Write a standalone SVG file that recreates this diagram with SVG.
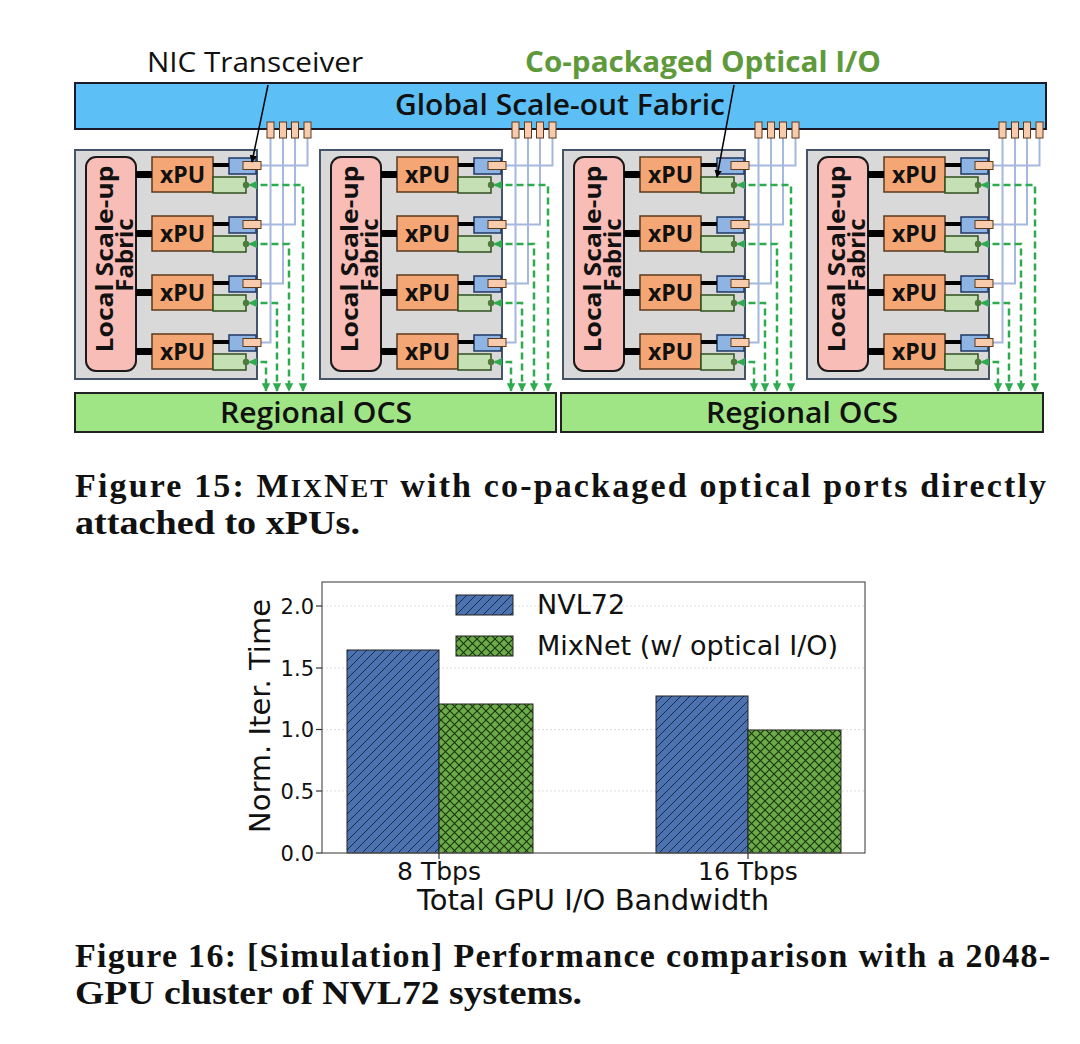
<svg xmlns="http://www.w3.org/2000/svg" width="1080" height="1044" viewBox="0 0 1080 1044">
<style>
.lbl{font-family:"Open Sans","Noto Sans","Liberation Sans",sans-serif;fill:#111}
.rack{fill:#D9D9D9;stroke:#44546A;stroke-width:2}
.local{fill:#F8BDB6;stroke:#1a1a1a;stroke-width:2}
.xpu{fill:#F4A774;stroke:#5B3A1E;stroke-width:1.5}
.nic{fill:#8DB4E2;stroke:#1F3864;stroke-width:1.5}
.port{fill:#F8CBAD;stroke:#5B3A1E;stroke-width:1}
.opt{fill:#C5E0B4;stroke:#2F4F1F;stroke-width:1.5}
.dot{fill:#4E7A3C}
.fiber{fill:none;stroke:#A6B8DD;stroke-width:2}
.olink{fill:none;stroke:#2EAA4F;stroke-width:2.5;stroke-dasharray:7 4;marker-start:url(#ga);marker-end:url(#ga)}
.bus{stroke:#000;stroke-width:7}
.nicl{stroke:#000;stroke-width:4}
.xt{font-family:"Open Sans","Liberation Sans",sans-serif;font-weight:700;font-size:23px;fill:#111;text-anchor:middle}
.lt{font-family:"Open Sans","Liberation Sans",sans-serif;font-weight:700;font-size:24px;fill:#111;text-anchor:middle}
.ocs{fill:#A0E585;stroke:#222;stroke-width:2}
.ch{font-family:"DejaVu Sans",sans-serif;fill:#111}
.grid{stroke:#DDDDDD;stroke-width:1;stroke-dasharray:2 2}
.bar{stroke:#222;stroke-width:1}
.cap{font-family:"Liberation Serif","Times New Roman",serif;font-weight:700;font-size:34px;fill:#111}
</style>
<defs>
<marker id="ga" viewBox="0 0 10 10" refX="9" refY="5" markerWidth="3.4" markerHeight="3.4" orient="auto-start-reverse"><path d="M0,0 L10,5 L0,10 z" fill="#2EAA4F"/></marker>
<marker id="ka" viewBox="0 0 10 10" refX="9" refY="5" markerWidth="5" markerHeight="5" orient="auto"><path d="M0,0 L10,5 L0,10 z" fill="#000"/></marker>
<pattern id="hb" patternUnits="userSpaceOnUse" width="9" height="9"><rect width="9" height="9" fill="#4C72B0"/><path d="M0,9 L9,0 M-1,1 L1,-1 M8,10 L10,8" stroke="#1B2A4A" stroke-width="1"/></pattern>
<pattern id="hg" patternUnits="userSpaceOnUse" width="9" height="9"><rect width="9" height="9" fill="#6CAB47"/><path d="M0,0 L9,9 M9,0 L0,9" stroke="#17330F" stroke-width="1.1"/></pattern>
</defs>
<rect width="1080" height="1044" fill="#fff"/>

<g id="global-fabric">
<rect x="75" y="83" width="971" height="46" fill="#5CBFF6" stroke="#1a1a2a" stroke-width="2"/>
<text class="lbl" x="395" y="115" font-size="28" font-weight="600" textLength="330" lengthAdjust="spacingAndGlyphs" fill="#0D1B2A">Global Scale-out Fabric</text>
</g>

<g id="label-nic"><text class="lbl" x="147" y="72" font-size="28" textLength="216" lengthAdjust="spacingAndGlyphs">NIC Transceiver</text></g>
<g id="label-cpo"><text class="lbl" x="525" y="72" font-size="29" font-weight="700" textLength="356" lengthAdjust="spacingAndGlyphs" style="fill:#5E9A3C">Co-packaged Optical I/O</text></g>

<g id="regional-ocs-1"><rect class="ocs" x="75" y="393" width="481" height="39"/><text class="lbl" x="220" y="423" font-size="28" font-weight="600" textLength="192" lengthAdjust="spacingAndGlyphs">Regional OCS</text></g>
<g id="regional-ocs-2"><rect class="ocs" x="561" y="393" width="482" height="39"/><text class="lbl" x="706" y="423" font-size="28" font-weight="600" textLength="192" lengthAdjust="spacingAndGlyphs">Regional OCS</text></g>

<g id="rack-1">
<rect class="rack" x="75" y="150" width="182" height="229"/>
<g id="rack-1-scaleup"><rect class="local" x="86" y="157" width="50" height="214" rx="10"/>
<text class="lt" x="113" y="259" transform="rotate(-90 113 259)" textLength="187" lengthAdjust="spacingAndGlyphs">Local Scale-up</text>
<text class="lt" x="133" y="255" transform="rotate(-90 133 255)">Fabric</text></g>
<g id="rack-1-xpu-1"><rect class="xpu" x="152" y="157" width="61" height="35"/><text class="xt" x="182.5" y="183">xPU</text><rect class="nic" x="229" y="158" width="27" height="16"/><rect class="opt" x="213" y="177" width="33" height="16"/></g>
<g id="rack-1-xpu-2"><rect class="xpu" x="152" y="216" width="61" height="35"/><text class="xt" x="182.5" y="242">xPU</text><rect class="nic" x="229" y="217" width="27" height="16"/><rect class="opt" x="213" y="236" width="33" height="16"/></g>
<g id="rack-1-xpu-3"><rect class="xpu" x="152" y="275" width="61" height="35"/><text class="xt" x="182.5" y="301">xPU</text><rect class="nic" x="229" y="276" width="27" height="16"/><rect class="opt" x="213" y="295" width="33" height="16"/></g>
<g id="rack-1-xpu-4"><rect class="xpu" x="152" y="334" width="61" height="35"/><text class="xt" x="182.5" y="360">xPU</text><rect class="nic" x="229" y="335" width="27" height="16"/><rect class="opt" x="213" y="354" width="33" height="16"/></g>
</g>

<g id="rack-2" transform="translate(245,0)">
<rect class="rack" x="75" y="150" width="182" height="229"/>
<g id="rack-2-scaleup"><rect class="local" x="86" y="157" width="50" height="214" rx="10"/>
<text class="lt" x="113" y="259" transform="rotate(-90 113 259)" textLength="187" lengthAdjust="spacingAndGlyphs">Local Scale-up</text>
<text class="lt" x="133" y="255" transform="rotate(-90 133 255)">Fabric</text></g>
<g id="rack-2-xpu-1"><rect class="xpu" x="152" y="157" width="61" height="35"/><text class="xt" x="182.5" y="183">xPU</text><rect class="nic" x="229" y="158" width="27" height="16"/><rect class="opt" x="213" y="177" width="33" height="16"/></g>
<g id="rack-2-xpu-2"><rect class="xpu" x="152" y="216" width="61" height="35"/><text class="xt" x="182.5" y="242">xPU</text><rect class="nic" x="229" y="217" width="27" height="16"/><rect class="opt" x="213" y="236" width="33" height="16"/></g>
<g id="rack-2-xpu-3"><rect class="xpu" x="152" y="275" width="61" height="35"/><text class="xt" x="182.5" y="301">xPU</text><rect class="nic" x="229" y="276" width="27" height="16"/><rect class="opt" x="213" y="295" width="33" height="16"/></g>
<g id="rack-2-xpu-4"><rect class="xpu" x="152" y="334" width="61" height="35"/><text class="xt" x="182.5" y="360">xPU</text><rect class="nic" x="229" y="335" width="27" height="16"/><rect class="opt" x="213" y="354" width="33" height="16"/></g>
</g>

<g id="rack-3" transform="translate(488,0)">
<rect class="rack" x="75" y="150" width="182" height="229"/>
<g id="rack-3-scaleup"><rect class="local" x="86" y="157" width="50" height="214" rx="10"/>
<text class="lt" x="113" y="259" transform="rotate(-90 113 259)" textLength="187" lengthAdjust="spacingAndGlyphs">Local Scale-up</text>
<text class="lt" x="133" y="255" transform="rotate(-90 133 255)">Fabric</text></g>
<g id="rack-3-xpu-1"><rect class="xpu" x="152" y="157" width="61" height="35"/><text class="xt" x="182.5" y="183">xPU</text><rect class="nic" x="229" y="158" width="27" height="16"/><rect class="opt" x="213" y="177" width="33" height="16"/></g>
<g id="rack-3-xpu-2"><rect class="xpu" x="152" y="216" width="61" height="35"/><text class="xt" x="182.5" y="242">xPU</text><rect class="nic" x="229" y="217" width="27" height="16"/><rect class="opt" x="213" y="236" width="33" height="16"/></g>
<g id="rack-3-xpu-3"><rect class="xpu" x="152" y="275" width="61" height="35"/><text class="xt" x="182.5" y="301">xPU</text><rect class="nic" x="229" y="276" width="27" height="16"/><rect class="opt" x="213" y="295" width="33" height="16"/></g>
<g id="rack-3-xpu-4"><rect class="xpu" x="152" y="334" width="61" height="35"/><text class="xt" x="182.5" y="360">xPU</text><rect class="nic" x="229" y="335" width="27" height="16"/><rect class="opt" x="213" y="354" width="33" height="16"/></g>
</g>

<g id="rack-4" transform="translate(732,0)">
<rect class="rack" x="75" y="150" width="182" height="229"/>
<g id="rack-4-scaleup"><rect class="local" x="86" y="157" width="50" height="214" rx="10"/>
<text class="lt" x="113" y="259" transform="rotate(-90 113 259)" textLength="187" lengthAdjust="spacingAndGlyphs">Local Scale-up</text>
<text class="lt" x="133" y="255" transform="rotate(-90 133 255)">Fabric</text></g>
<g id="rack-4-xpu-1"><rect class="xpu" x="152" y="157" width="61" height="35"/><text class="xt" x="182.5" y="183">xPU</text><rect class="nic" x="229" y="158" width="27" height="16"/><rect class="opt" x="213" y="177" width="33" height="16"/></g>
<g id="rack-4-xpu-2"><rect class="xpu" x="152" y="216" width="61" height="35"/><text class="xt" x="182.5" y="242">xPU</text><rect class="nic" x="229" y="217" width="27" height="16"/><rect class="opt" x="213" y="236" width="33" height="16"/></g>
<g id="rack-4-xpu-3"><rect class="xpu" x="152" y="275" width="61" height="35"/><text class="xt" x="182.5" y="301">xPU</text><rect class="nic" x="229" y="276" width="27" height="16"/><rect class="opt" x="213" y="295" width="33" height="16"/></g>
<g id="rack-4-xpu-4"><rect class="xpu" x="152" y="334" width="61" height="35"/><text class="xt" x="182.5" y="360">xPU</text><rect class="nic" x="229" y="335" width="27" height="16"/><rect class="opt" x="213" y="354" width="33" height="16"/></g>
</g>

<g id="connectors">
<g id="links-r1">
<line class="bus" x1="136" y1="174.5" x2="152" y2="174.5"/><line class="bus" x1="136" y1="233.5" x2="152" y2="233.5"/><line class="bus" x1="136" y1="292.5" x2="152" y2="292.5"/><line class="bus" x1="136" y1="351.5" x2="152" y2="351.5"/>
<line class="nicl" x1="213" y1="165" x2="229" y2="165"/><line class="nicl" x1="213" y1="224" x2="229" y2="224"/><line class="nicl" x1="213" y1="283" x2="229" y2="283"/><line class="nicl" x1="213" y1="342" x2="229" y2="342"/>
<path class="fiber" d="M261 165.5H307.5V138"/><path class="fiber" d="M261 224.5H295V138"/><path class="fiber" d="M261 283.5H283V138"/><path class="fiber" d="M261 342.5H270.5V138"/>
<rect class="port" x="243" y="161.5" width="18" height="8"/><rect class="port" x="243" y="220.5" width="18" height="8"/><rect class="port" x="243" y="279.5" width="18" height="8"/><rect class="port" x="243" y="338.5" width="18" height="8"/>
<rect class="port" x="304" y="122" width="7" height="16"/><rect class="port" x="291.5" y="122" width="7" height="16"/><rect class="port" x="279.5" y="122" width="7" height="16"/><rect class="port" x="267" y="122" width="7" height="16"/>
<path class="olink" d="M249.5 185H303V391"/><path class="olink" d="M249.5 244H289V391"/><path class="olink" d="M249.5 303H277V391"/><path class="olink" d="M249.5 362H266V391"/>
<circle class="dot" cx="246" cy="185" r="3.2"/><circle class="dot" cx="246" cy="244" r="3.2"/><circle class="dot" cx="246" cy="303" r="3.2"/><circle class="dot" cx="246" cy="362" r="3.2"/>
</g>
<g id="links-r2" transform="translate(245,0)">
<line class="bus" x1="136" y1="174.5" x2="152" y2="174.5"/><line class="bus" x1="136" y1="233.5" x2="152" y2="233.5"/><line class="bus" x1="136" y1="292.5" x2="152" y2="292.5"/><line class="bus" x1="136" y1="351.5" x2="152" y2="351.5"/>
<line class="nicl" x1="213" y1="165" x2="229" y2="165"/><line class="nicl" x1="213" y1="224" x2="229" y2="224"/><line class="nicl" x1="213" y1="283" x2="229" y2="283"/><line class="nicl" x1="213" y1="342" x2="229" y2="342"/>
<path class="fiber" d="M261 165.5H307.5V138"/><path class="fiber" d="M261 224.5H295V138"/><path class="fiber" d="M261 283.5H283V138"/><path class="fiber" d="M261 342.5H270.5V138"/>
<rect class="port" x="243" y="161.5" width="18" height="8"/><rect class="port" x="243" y="220.5" width="18" height="8"/><rect class="port" x="243" y="279.5" width="18" height="8"/><rect class="port" x="243" y="338.5" width="18" height="8"/>
<rect class="port" x="304" y="122" width="7" height="16"/><rect class="port" x="291.5" y="122" width="7" height="16"/><rect class="port" x="279.5" y="122" width="7" height="16"/><rect class="port" x="267" y="122" width="7" height="16"/>
<path class="olink" d="M249.5 185H303V391"/><path class="olink" d="M249.5 244H289V391"/><path class="olink" d="M249.5 303H277V391"/><path class="olink" d="M249.5 362H266V391"/>
<circle class="dot" cx="246" cy="185" r="3.2"/><circle class="dot" cx="246" cy="244" r="3.2"/><circle class="dot" cx="246" cy="303" r="3.2"/><circle class="dot" cx="246" cy="362" r="3.2"/>
</g>
<g id="links-r3" transform="translate(488,0)">
<line class="bus" x1="136" y1="174.5" x2="152" y2="174.5"/><line class="bus" x1="136" y1="233.5" x2="152" y2="233.5"/><line class="bus" x1="136" y1="292.5" x2="152" y2="292.5"/><line class="bus" x1="136" y1="351.5" x2="152" y2="351.5"/>
<line class="nicl" x1="213" y1="165" x2="229" y2="165"/><line class="nicl" x1="213" y1="224" x2="229" y2="224"/><line class="nicl" x1="213" y1="283" x2="229" y2="283"/><line class="nicl" x1="213" y1="342" x2="229" y2="342"/>
<path class="fiber" d="M261 165.5H307.5V138"/><path class="fiber" d="M261 224.5H295V138"/><path class="fiber" d="M261 283.5H283V138"/><path class="fiber" d="M261 342.5H270.5V138"/>
<rect class="port" x="243" y="161.5" width="18" height="8"/><rect class="port" x="243" y="220.5" width="18" height="8"/><rect class="port" x="243" y="279.5" width="18" height="8"/><rect class="port" x="243" y="338.5" width="18" height="8"/>
<rect class="port" x="304" y="122" width="7" height="16"/><rect class="port" x="291.5" y="122" width="7" height="16"/><rect class="port" x="279.5" y="122" width="7" height="16"/><rect class="port" x="267" y="122" width="7" height="16"/>
<path class="olink" d="M249.5 185H303V391"/><path class="olink" d="M249.5 244H289V391"/><path class="olink" d="M249.5 303H277V391"/><path class="olink" d="M249.5 362H266V391"/>
<circle class="dot" cx="246" cy="185" r="3.2"/><circle class="dot" cx="246" cy="244" r="3.2"/><circle class="dot" cx="246" cy="303" r="3.2"/><circle class="dot" cx="246" cy="362" r="3.2"/>
</g>
<g id="links-r4" transform="translate(732,0)">
<line class="bus" x1="136" y1="174.5" x2="152" y2="174.5"/><line class="bus" x1="136" y1="233.5" x2="152" y2="233.5"/><line class="bus" x1="136" y1="292.5" x2="152" y2="292.5"/><line class="bus" x1="136" y1="351.5" x2="152" y2="351.5"/>
<line class="nicl" x1="213" y1="165" x2="229" y2="165"/><line class="nicl" x1="213" y1="224" x2="229" y2="224"/><line class="nicl" x1="213" y1="283" x2="229" y2="283"/><line class="nicl" x1="213" y1="342" x2="229" y2="342"/>
<path class="fiber" d="M261 165.5H307.5V138"/><path class="fiber" d="M261 224.5H295V138"/><path class="fiber" d="M261 283.5H283V138"/><path class="fiber" d="M261 342.5H270.5V138"/>
<rect class="port" x="243" y="161.5" width="18" height="8"/><rect class="port" x="243" y="220.5" width="18" height="8"/><rect class="port" x="243" y="279.5" width="18" height="8"/><rect class="port" x="243" y="338.5" width="18" height="8"/>
<rect class="port" x="304" y="122" width="7" height="16"/><rect class="port" x="291.5" y="122" width="7" height="16"/><rect class="port" x="279.5" y="122" width="7" height="16"/><rect class="port" x="267" y="122" width="7" height="16"/>
<path class="olink" d="M249.5 185H303V391"/><path class="olink" d="M249.5 244H289V391"/><path class="olink" d="M249.5 303H277V391"/><path class="olink" d="M249.5 362H266V391"/>
<circle class="dot" cx="246" cy="185" r="3.2"/><circle class="dot" cx="246" cy="244" r="3.2"/><circle class="dot" cx="246" cy="303" r="3.2"/><circle class="dot" cx="246" cy="362" r="3.2"/>
</g>
<line x1="268" y1="85" x2="252" y2="162" stroke="#000" stroke-width="1.5" marker-end="url(#ka)"/>
<line x1="734" y1="85" x2="717" y2="177" stroke="#000" stroke-width="1.5" marker-end="url(#ka)"/>
</g>

<g id="caption-15">
<text class="cap" x="75" y="497" textLength="971" lengthAdjust="spacing">Figure 15: M<tspan font-size="26">IX</tspan>N<tspan font-size="26">ET</tspan> with co-packaged optical ports directly</text>
<text class="cap" x="75" y="534" textLength="285" lengthAdjust="spacingAndGlyphs">attached to xPUs.</text>
</g>

<g id="chart">
<line class="grid" x1="322" y1="606" x2="865" y2="606"/>
<line class="grid" x1="322" y1="668" x2="865" y2="668"/>
<line class="grid" x1="322" y1="729.5" x2="865" y2="729.5"/>
<line class="grid" x1="322" y1="791" x2="865" y2="791"/>
<rect class="bar" x="347" y="650" width="92" height="203" fill="url(#hb)"/>
<rect class="bar" x="439" y="704" width="94" height="149" fill="url(#hg)"/>
<rect class="bar" x="656" y="696" width="92" height="157" fill="url(#hb)"/>
<rect class="bar" x="748" y="730" width="93" height="123" fill="url(#hg)"/>
<rect x="322" y="582" width="543" height="271" fill="none" stroke="#555" stroke-width="1.2"/>
<g stroke="#333" stroke-width="1.2">
<line x1="316" y1="606" x2="322" y2="606"/><line x1="316" y1="668" x2="322" y2="668"/><line x1="316" y1="729.5" x2="322" y2="729.5"/><line x1="316" y1="791" x2="322" y2="791"/><line x1="316" y1="853" x2="322" y2="853"/>
<line x1="439" y1="853" x2="439" y2="859"/><line x1="748" y1="853" x2="748" y2="859"/>
</g>
<g class="ch" font-size="21" text-anchor="end">
<text x="314" y="614">2.0</text><text x="314" y="676">1.5</text><text x="314" y="737">1.0</text><text x="314" y="799">0.5</text><text x="314" y="861">0.0</text>
</g>
<g class="ch" font-size="25" text-anchor="middle">
<text x="439" y="880">8 Tbps</text><text x="748" y="880">16 Tbps</text>
</g>
<text class="ch" x="593" y="910" font-size="29" text-anchor="middle">Total GPU I/O Bandwidth</text>
<text class="ch" x="270" y="716" font-size="29" text-anchor="middle" transform="rotate(-90 270 716)">Norm. Iter. Time</text>
<g id="legend">
<rect class="bar" x="456" y="595" width="57" height="20" fill="url(#hb)"/>
<text class="ch" x="537" y="614" font-size="27">NVL72</text>
<rect class="bar" x="456" y="636" width="57" height="20" fill="url(#hg)"/>
<text class="ch" x="537" y="655" font-size="27">MixNet (w/ optical I/O)</text>
</g>
</g>

<g id="caption-16">
<text class="cap" x="75" y="967" textLength="975" lengthAdjust="spacing">Figure 16: [Simulation] Performance comparison with a 2048-</text>
<text class="cap" x="75" y="1004" textLength="507" lengthAdjust="spacingAndGlyphs">GPU cluster of NVL72 systems.</text>
</g>
</svg>
